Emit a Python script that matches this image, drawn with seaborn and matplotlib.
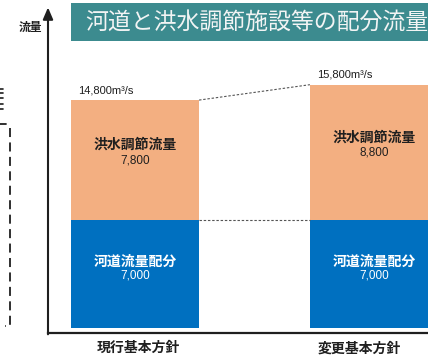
import matplotlib
matplotlib.use("Agg")
import matplotlib.pyplot as plt
from matplotlib.lines import Line2D
from matplotlib.patches import Rectangle
import matplotlib.transforms as mtransforms
import pandas as pd
import seaborn as sns

# Flow allocation (m3/s) for the current and revised basic policies
plans = ["現行基本方針", "変更基本方針"]
river_flow = [7000, 7000]          # 河道流量配分
flood_control = [7800, 8800]       # 洪水調節流量
totals = [r + f for r, f in zip(river_flow, flood_control)]
total_labels = ["14,800m³/s", "15,800m³/s"]
river_name = "河道流量配分"
control_name = "洪水調節流量"
title = "河道と洪水調節施設等の配分流量"
y_label = "流量"

ORANGE = "#F3AF81"
BLUE = "#0070C0"
TEAL = "#3C8B8F"
DARK = "#1f1f1f"

sns.set_style("white")
plt.rcParams["font.family"] = ["Noto Sans CJK JP", "DejaVu Sans"]

df = pd.DataFrame({"plan": plans, "river": river_flow,
                   "control": flood_control, "total": totals})

W, H = 428, 362
fig = plt.figure(figsize=(W / 100, H / 100), dpi=100)
ax = fig.add_axes([48 / W, 29 / H, 1 - 48 / W, (333 - 10) / H])

bar_w = 0.536
sns.barplot(data=df, x="plan", y="total", order=plans, color=ORANGE,
            saturation=1, width=bar_w, linewidth=0, ax=ax)
sns.barplot(data=df, x="plan", y="river", order=plans, color=BLUE,
            saturation=1, width=bar_w, linewidth=0, ax=ax)

ax.set_xlim(-0.364, 1.226)
ax.set_ylim(-325, 20650)
ax.set_xlabel("")
ax.set_ylabel("")
ax.set_yticks([])

# Axis styling: thick baseline, y axis drawn as an arrow
for side in ["top", "right", "left"]:
    ax.spines[side].set_visible(False)
ax.spines["bottom"].set_linewidth(1.6)
ax.spines["bottom"].set_color(DARK)
ax.annotate("", xy=(0, 1.008), xycoords="axes fraction",
            xytext=(0, -0.004), textcoords="axes fraction",
            arrowprops=dict(arrowstyle="-|>,head_length=0.7,head_width=0.3",
                            lw=1.5, color=DARK, shrinkA=0, shrinkB=0),
            annotation_clip=False)
fig.text(30 / W, 1 - 27 / H, y_label, ha="center", va="center",
         fontsize=8.5, fontweight="bold", color=DARK)

# Category labels
ax.set_xticks([0, 1])
ax.set_xticklabels(plans, fontsize=10, fontweight="bold", color=DARK)
ax.tick_params(axis="x", length=0, pad=6)
shifts = [3, -15]
for lab, dx in zip(ax.get_xticklabels(), shifts):
    lab.set_transform(lab.get_transform() +
                      mtransforms.ScaledTranslation(dx / 100, 0, fig.dpi_scale_trans))

# Dotted connectors between the two bars
half = bar_w / 2
conn = dict(color="#555555", lw=0.8, linestyle=(0, (2.2, 1.6)))
ax.plot([0 + half, 1 - half], [totals[0], totals[1]], **conn)
ax.plot([0 + half, 1 - half], [river_flow[0], river_flow[1]], **conn)

# Segment labels
for i in range(len(plans)):
    mid_c = river_flow[i] + flood_control[i] / 2
    mid_r = river_flow[i] / 2
    ax.annotate(control_name, (i, mid_c), xytext=(0, 11), textcoords="offset points",
                ha="center", va="center", fontsize=10, fontweight="bold", color=DARK)
    ax.annotate(f"{flood_control[i]:,}", (i, mid_c), xytext=(0, 0), textcoords="offset points",
                ha="center", va="center", fontsize=8.5, color=DARK,
                family=["Liberation Sans", "DejaVu Sans"])
    ax.annotate(river_name, (i, mid_r), xytext=(0, 9), textcoords="offset points",
                ha="center", va="center", fontsize=10, fontweight="bold", color="white")
    ax.annotate(f"{river_flow[i]:,}", (i, mid_r), xytext=(0, -1), textcoords="offset points",
                ha="center", va="center", fontsize=8.5, color="white",
                family=["Liberation Sans", "DejaVu Sans"])
    ax.annotate(total_labels[i], (i - half, totals[i]), xytext=(5, 7),
                textcoords="offset points", ha="left", va="center",
                fontsize=8, color=DARK, family=["Liberation Sans", "DejaVu Sans"])

# Title banner
fig.patches.append(Rectangle((71 / W, 1 - 41 / H), 1 - 71 / W, 38 / H,
                             transform=fig.transFigure, facecolor=TEAL,
                             edgecolor="none", zorder=5))
fig.text(85 / W, 1 - 22 / H, title, ha="left", va="center", fontsize=16.5,
         color="#f2f4f4", zorder=6)

# Bracket at the left margin, with stroke ends of a neighbouring heading
for yy in [89, 93, 98, 104, 109]:
    fig.lines.append(Line2D([0, 3 / W], [1 - yy / H] * 2, transform=fig.transFigure,
                            color=DARK, lw=1.2))
fig.lines.append(Line2D([0, 6 / W], [1 - 124 / H] * 2, transform=fig.transFigure,
                        color=DARK, lw=1.3))
fig.lines.append(Line2D([10 / W, 10 / W, 5 / W], [1 - 128 / H, 1 - 326 / H, 1 - 326 / H],
                        transform=fig.transFigure, color=DARK, lw=1.3,
                        linestyle=(0, (5, 3))))

fig.savefig("out.png", dpi=100)
